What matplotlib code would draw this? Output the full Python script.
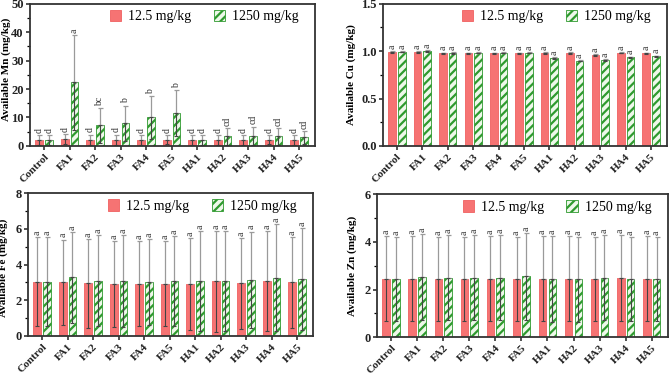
import matplotlib.pyplot as plt
import numpy as np
from matplotlib.ticker import AutoMinorLocator, MultipleLocator

plt.rcParams['font.family'] = ['Liberation Serif', 'DejaVu Serif']
plt.rcParams['hatch.linewidth'] = 1.6

groups = ['Control', 'FA1', 'FA2', 'FA3', 'FA4', 'FA5', 'HA1', 'HA2', 'HA3', 'HA4', 'HA5']

# Mn
mn_low = [2.1, 2.3, 2.2, 2.2, 2.1, 2.2, 2.1, 2.1, 2.1, 2.2, 2.1]
mn_low_err = [1.7, 1.8, 1.8, 1.8, 1.7, 1.7, 1.7, 1.7, 1.7, 1.7, 1.7]
mn_high = [2.0, 22.4, 7.2, 7.9, 10.0, 11.5, 2.1, 3.3, 3.5, 3.3, 3.0]
mn_high_err = [1.8, 16.7, 6.1, 6.3, 7.6, 8.0, 1.7, 3.0, 3.3, 3.0, 2.3]
mn_low_let = ['d'] * 11
mn_high_let = ['d', 'a', 'bc', 'b', 'b', 'b', 'd', 'cd', 'cd', 'cd', 'cd']

# Cu
cu_low = [0.995, 0.995, 0.975, 0.975, 0.975, 0.975, 0.98, 0.98, 0.96, 0.985, 0.975]
cu_low_err = [0.01] * 11
cu_high = [0.995, 1.0, 0.98, 0.985, 0.985, 0.985, 0.925, 0.90, 0.905, 0.935, 0.945]
cu_high_err = [0.008] * 11

# Fe
fe_low = [3.05, 3.0, 2.95, 2.92, 2.92, 2.92, 2.92, 3.07, 2.95, 3.1, 3.0]
fe_low_err = [2.5, 2.4, 2.5, 2.4, 2.38, 2.38, 2.58, 2.83, 2.55, 2.8, 2.55]
fe_high = [3.05, 3.28, 3.1, 3.07, 3.03, 3.1, 3.07, 3.1, 3.15, 3.27, 3.18]
fe_high_err = [2.5, 2.55, 2.55, 2.58, 2.42, 2.52, 2.8, 2.8, 2.7, 2.98, 2.87]

# Zn
zn_low = [2.45, 2.45, 2.44, 2.43, 2.45, 2.44, 2.45, 2.45, 2.45, 2.48, 2.45]
zn_low_err = [1.78, 1.78, 1.76, 1.76, 1.78, 1.75, 1.78, 1.78, 1.76, 1.8, 1.78]
zn_high = [2.45, 2.53, 2.5, 2.5, 2.5, 2.55, 2.45, 2.43, 2.5, 2.45, 2.45]
zn_high_err = [1.77, 1.8, 1.78, 1.8, 1.77, 1.83, 1.8, 1.79, 1.78, 1.77, 1.77]

red_face = '#f67373'
red_edge = '#f06060'
green_face = '#eef8ea'
green_edge = '#2f9a2f'


def draw_panel(ax, low, low_err, high, high_err, low_let, high_let, ylabel, ymax, major,
               label_xy, fmt=None):
    x = np.arange(len(groups))
    w = 0.3
    off = 0.19
    ax.bar(x - off, low, w, color=red_face, edgecolor=red_edge, linewidth=0.6, label='12.5 mg/kg')
    ax.bar(x + off, high, w, color=green_face, edgecolor=green_edge, hatch='////', linewidth=0.6,
           label='1250 mg/kg')
    for xs, v, e in [(x - off, low, low_err), (x + off, high, high_err)]:
        v = np.array(v)
        e = np.array(e)
        ax.errorbar(xs, v, yerr=[np.zeros_like(e), e], fmt='none', ecolor='#9a9a9a',
                    elinewidth=0.9, capsize=1.8, capthick=0.9)
        ax.errorbar(xs, v, yerr=[e, np.zeros_like(e)], fmt='none', ecolor='#444444',
                    elinewidth=0.8, capsize=1.5, capthick=0.8)
    for xs, v, e, lets in [(x - off, low, low_err, low_let), (x + off, high, high_err, high_let)]:
        for xi, vi, ei, l in zip(xs, v, e, lets):
            ax.annotate(l, (xi, vi + ei), xytext=(0, 1.5), textcoords='offset points',
                        rotation=90, ha='center', va='bottom', fontsize=7, color='#333333')
    ax.set_xlim(-0.55, 10.63)
    ax.set_ylim(0, ymax)
    ax.yaxis.set_major_locator(MultipleLocator(major))
    ax.yaxis.set_minor_locator(AutoMinorLocator(2))
    if fmt:
        ax.yaxis.set_major_formatter(plt.FormatStrFormatter(fmt))
    ax.set_xticks(x)
    ax.set_xticklabels(groups, rotation=45, ha='right', rotation_mode='anchor',
                       fontsize=8, fontweight='bold')
    for t in ax.get_yticklabels():
        t.set_fontweight('bold')
        t.set_fontsize(9)
    ax.set_ylabel(ylabel, fontsize=8, fontweight='bold')
    ax.yaxis.set_label_coords(*label_xy)
    for s in ax.spines.values():
        s.set_linewidth(1.3)
        s.set_color('#333333')
    ax.tick_params(axis='both', width=1.1, length=3, pad=1.5, colors='#222222')
    ax.tick_params(axis='y', which='minor', width=0.9, length=2)
    ax.legend(loc='upper right', ncol=2, frameon=False, fontsize=10, handlelength=0.8,
              handleheight=0.9, columnspacing=1.6, handletextpad=0.5,
              bbox_to_anchor=(0.985, 1.045))


fig = plt.figure(figsize=(6.69, 3.75), dpi=100)
ax1 = fig.add_axes([0.045, 0.611, 0.426, 0.379])
ax2 = fig.add_axes([0.5725, 0.611, 0.4245, 0.379])
ax3 = fig.add_axes([0.042, 0.104, 0.426, 0.381])
ax4 = fig.add_axes([0.5635, 0.101, 0.435, 0.381])

draw_panel(ax1, mn_low, mn_low_err, mn_high, mn_high_err, mn_low_let, mn_high_let,
           'Available Mn (mg/kg)', 50, 10, (-0.066, 0.54))
draw_panel(ax2, cu_low, cu_low_err, cu_high, cu_high_err, ['a'] * 11, ['a'] * 11,
           'Available Cu (mg/kg)', 1.5, 0.5, (-0.095, 0.5), '%.1f')
draw_panel(ax3, fe_low, fe_low_err, fe_high, fe_high_err, ['a'] * 11, ['a'] * 11,
           'Available Fe (mg/kg)', 8, 2, (-0.07, 0.48))
draw_panel(ax4, zn_low, zn_low_err, zn_high, zn_high_err, ['a'] * 11, ['a'] * 11,
           'Available Zn (mg/kg)', 6, 2, (-0.07, 0.5))

fig.savefig('out.png', dpi=100)
